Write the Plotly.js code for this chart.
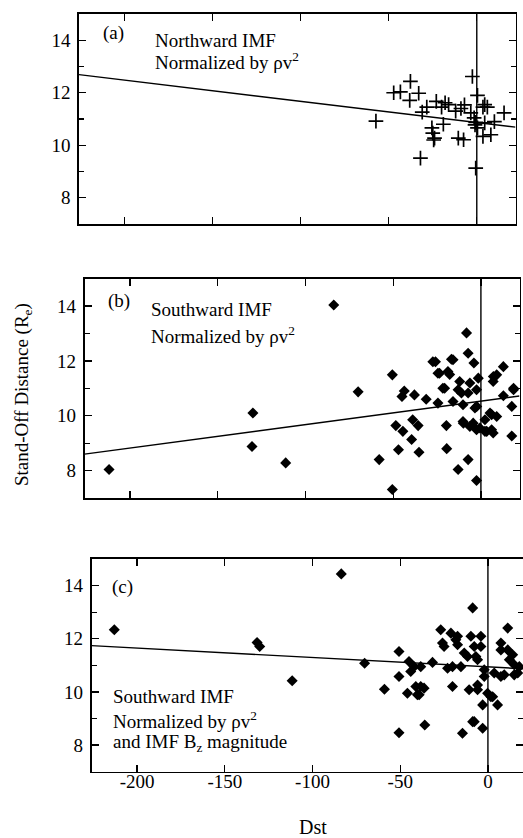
<!DOCTYPE html>
<html><head><meta charset="utf-8">
<script src="https://cdn.plot.ly/plotly-3.0.1.min.js"></script>
<style>html,body{margin:0;padding:0;background:#fff}</style>
</head><body>
<div id="chart" style="width:523px;height:838px"></div>
<script>
// ---- Panel (a): Northward IMF, normalized by rho v^2 ----
const aDst = [-37.7,-47.2,-43.4,-33.0,-38.1,-57.3,-31.0,-28.4,-23.0,-18.0,-16.0,-12.0,-7.0,-2.5,0.4,3.5,6.0,15.5,10.0,-0.6,0.4,3.5,8.0,-19.0,-25.5,-25.0,-24.0,-24.5,-10.5,-7.5,-32.0,-0.6,-1.5,-20.0,-9.0,4.5,-3.4,-1.0,4.5];
const aVal = [12.43,12.00,12.03,11.98,11.71,10.92,11.26,11.45,11.67,11.62,11.55,11.30,11.54,12.62,11.90,11.45,11.45,11.23,10.90,10.87,10.66,10.34,10.40,10.80,10.66,10.46,10.27,10.20,10.27,10.21,9.51,9.13,11.04,11.45,11.40,11.55,11.23,10.78,10.85];
const aFitDst = [-226, 22];
const aFitVal = [12.69, 10.69];

// ---- Panel (b): Southward IMF, normalized by rho v^2 ----
const bDst = [-212,-130,-130.5,-111.3,-83.9,-70,-58,-50.5,-50.5,-47,-48.5,-44.5,-43.7,-37.9,-45,-31.2,-35.8,-38.9,-39.5,-35.3,-27.4,-24.5,-21.7,-24.5,-19.7,-19.5,-16.8,-17.8,-15.9,-13,-11.1,-10.2,-8.2,-7.3,-7.3,-4,-6.3,-4.4,-2.5,-1.5,-10.2,-3.4,-0.6,5.2,9,6.1,7.1,12.8,12.8,17.6,17.6,18.6,2.3,-25.9,-15.9,-23.6,-18.8,-12.1,9,-20.7,-13,-7.3,-2.5,7,18.6,3.3,6.1,-2.4,-10,-6.3,-2.5,2.3,7];
const bVal = [8.04,10.10,8.88,8.28,14.04,10.87,8.40,7.31,11.49,8.76,9.64,9.43,10.90,10.76,10.70,10.60,9.64,9.85,9.13,8.67,11.97,11.55,11.00,10.46,9.64,8.80,12.06,11.50,10.52,8.04,10.83,10.40,13.02,12.28,8.40,11.92,11.19,9.73,7.64,11.37,9.79,10.28,9.55,10.10,9.97,9.49,11.43,11.79,10.73,10.34,9.26,11.00,9.85,11.97,12.04,11.55,11.61,11.25,11.49,11.00,10.95,10.83,10.95,11.25,10.95,9.43,10.04,10.34,9.73,9.61,9.49,9.43,9.37];
const bFitDst = [-226, 22];
const bFitVal = [8.60, 10.72];

// ---- Panel (c): Southward IMF, normalized by rho v^2 and IMF Bz magnitude ----
const cDst = [-213,-131.6,-130.1,-111.6,-83.6,-70.3,-59,-50.7,-50.7,-50.7,-45.9,-45,-42.1,-38.3,-41.1,-39.2,-36.4,-36,-31.6,-26.9,-25,-21.1,-18.3,-20.2,-20.2,-14.5,-8.7,-8.7,-3,-3,5.5,-9.7,-4,-11.6,-5.9,-13.5,-7.8,-15.4,-5.9,-2.1,1.7,7.4,11.3,7.4,17,12.2,15,-17.3,-25.9,-17.3,-4,-6.9,-44,-23,7.4,11.3,14.1,17.9,-2.1,3.6,9.3,15,-38.3,-10.7,-5.9,-0.2,2.7,-7.8,-40.2];
const cVal = [12.34,11.86,11.71,10.42,14.44,11.08,10.10,11.52,10.58,8.46,9.95,11.14,10.95,10.95,10.20,9.89,10.14,8.75,11.11,12.34,11.71,12.21,11.96,10.20,10.95,8.44,13.16,8.88,9.51,8.63,9.51,12.09,12.09,11.33,11.21,11.46,11.71,10.95,10.08,10.58,9.82,10.58,12.40,11.58,10.71,11.21,11.02,12.09,11.84,11.77,11.71,11.33,10.77,10.89,11.84,11.58,11.40,10.95,10.83,10.71,10.64,10.64,10.20,10.08,10.26,9.95,9.82,8.88,9.89];
const cFitDst = [-226, 20];
const cFitVal = [11.74, 10.87];

// zero-Dst reference line
const zeroDst = [0, 0];
const zeroVal = [7, 15];

const xTickVals = [-200, -150, -100, -50, 0];
const xTickText = ['-200', '-150', '-100', '-50', '0'];
const yTickVals = [8, 10, 12, 14];

const FONT = 'Liberation Serif, Times New Roman, serif';
const W = 523, H = 838;

const plusMarker = {symbol: 'cross-thin-open', size: 10.5, color: '#000', line: {color: '#000', width: 1.7}};
const diaMarker = {symbol: 'diamond', size: 8.5, color: '#000', line: {width: 0}};
const fitLine = {color: '#000', width: 1.4};

const traces = [
  {x: aDst, y: aVal, xaxis: 'x', yaxis: 'y', mode: 'markers', type: 'scatter', marker: plusMarker},
  {x: aFitDst, y: aFitVal, xaxis: 'x', yaxis: 'y', mode: 'lines', type: 'scatter', line: fitLine},
  {x: zeroDst, y: zeroVal, xaxis: 'x', yaxis: 'y', mode: 'lines', type: 'scatter', line: fitLine},
  {x: bDst, y: bVal, xaxis: 'x2', yaxis: 'y2', mode: 'markers', type: 'scatter', marker: diaMarker},
  {x: bFitDst, y: bFitVal, xaxis: 'x2', yaxis: 'y2', mode: 'lines', type: 'scatter', line: fitLine},
  {x: zeroDst, y: zeroVal, xaxis: 'x2', yaxis: 'y2', mode: 'lines', type: 'scatter', line: fitLine},
  {x: cDst, y: cVal, xaxis: 'x3', yaxis: 'y3', mode: 'markers', type: 'scatter', marker: diaMarker},
  {x: cFitDst, y: cFitVal, xaxis: 'x3', yaxis: 'y3', mode: 'lines', type: 'scatter', line: fitLine},
  {x: zeroDst, y: zeroVal, xaxis: 'x3', yaxis: 'y3', mode: 'lines', type: 'scatter', line: fitLine}
];

function xAxis(range, domainPx, anchor, labels) {
  return {
    range: range, domain: [domainPx[0] / W, domainPx[1] / W], anchor: anchor,
    showline: true, linecolor: '#000', linewidth: 1.6, mirror: 'ticks',
    ticks: 'inside', ticklen: 7, tickwidth: 1.3, tickcolor: '#000',
    tickmode: 'array', tickvals: xTickVals, ticktext: xTickText,
    showticklabels: labels, ticklabelstandoff: -8,
    showgrid: false, zeroline: false,
    tickfont: {family: FONT, size: 19, color: '#000'}
  };
}
function yAxis(domainPx, anchor) {
  return {
    range: [7, 15], domain: [1 - domainPx[1] / H, 1 - domainPx[0] / H], anchor: anchor,
    showline: true, linecolor: '#000', linewidth: 1.6, mirror: 'ticks',
    ticks: 'inside', ticklen: 7, tickwidth: 1.3, tickcolor: '#000',
    tickmode: 'array', tickvals: yTickVals,
    minor: {dtick: 1, tick0: 7, ticks: 'inside', ticklen: 5, tickwidth: 1.2, tickcolor: '#000'},
    showgrid: false, zeroline: false, ticklabelstandoff: 3,
    tickfont: {family: FONT, size: 19, color: '#000'}
  };
}

function note(text, px, py, extra) {
  return Object.assign({text: text, xref: 'paper', yref: 'paper', x: px / W, y: 1 - py / H,
    xanchor: 'left', yanchor: 'middle', showarrow: false,
    font: {family: FONT, size: 19, color: '#000'}}, extra || {});
}

const layout = {
  width: W, height: H, margin: {l: 0, r: 0, t: 0, b: 0},
  paper_bgcolor: '#fff', plot_bgcolor: '#fff', showlegend: false,
  xaxis: xAxis([-226, 22], [79, 515.5], 'y', false),
  yaxis: yAxis([14, 224], 'x'),
  xaxis2: xAxis([-226, 22], [84.5, 519.5], 'y2', false),
  yaxis2: yAxis([278.6, 498], 'x2'),
  xaxis3: xAxis([-226, 20], [91.5, 523], 'y3', true),
  yaxis3: yAxis([559, 771.6], 'x3'),
  annotations: [
    note('(a)', 101, 33),
    note('Northward IMF', 153, 41),
    note('Normalized by ρv<sup>2</sup>', 153, 61),
    note('(b)', 106, 301),
    note('Southward IMF', 149, 309),
    note('Normalized by ρv<sup>2</sup>', 149, 335),
    note('(c)', 110, 587),
    note('Southward IMF', 111, 696),
    note('Normalized by ρv<sup>2</sup>', 111, 720),
    note('and IMF B<sub>z</sub> magnitude', 111, 743),
    note('Stand-Off Distance (R<sub>e</sub>)', 23, 395, {xanchor: 'center', textangle: -90}),
    note('Dst', 313, 827, {xanchor: 'center', font: {family: FONT, size: 20, color: '#000'}})
  ]
};

Plotly.newPlot('chart', traces, layout, {staticPlot: true, displayModeBar: false});
</script>
</body></html>
